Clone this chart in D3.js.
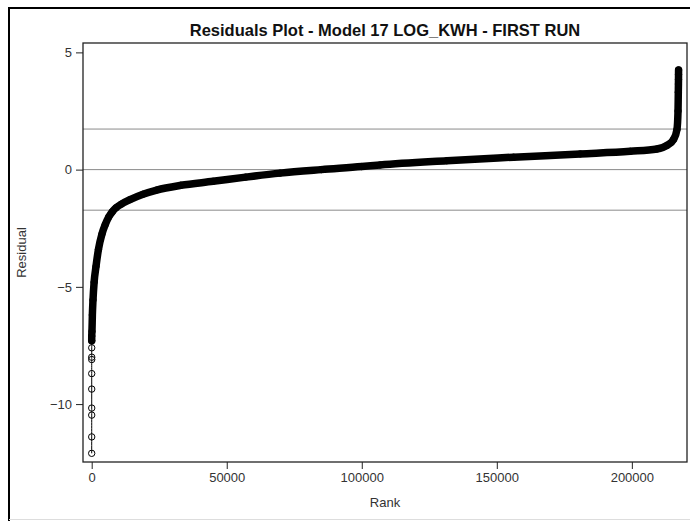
<!DOCTYPE html>
<html>
<head>
<meta charset="utf-8">
<script src="https://cdn.jsdelivr.net/npm/d3@7"></script>
<style>
  body { margin: 0; background: #fff; }
  svg { display: block; font-family: "Liberation Sans", Arial, sans-serif; }
</style>
</head>
<body>
<svg id="chart" width="690" height="521"></svg>
<script>
// residuals sorted by rank
var ranks = [1, 2, 3, 4, 5, 6, 7, 8, 9, 10,
    20, 100, 250, 480, 900, 1590, 2500, 3800, 5000, 6300,
    7600, 9000, 11000, 14190, 19000, 24070, 33000, 44930, 57000, 69750,
    85000, 100000, 106800, 131500, 156200, 180900, 199400, 209300, 213000, 215400,
    216700, 217100, 217200, 217250, 217270, 217285, 217300];
var residuals = [-12.1, -11.4, -10.47, -10.17, -9.36, -8.7, -8.1, -8.0, -7.6, -7.3,
    -7.1, -6.9, -6.2, -5.56, -4.8, -4.13, -3.4, -2.75, -2.35, -2.02,
    -1.8, -1.63, -1.47, -1.28, -1.05, -0.87, -0.67, -0.5, -0.32, -0.15,
    0.0, 0.13, 0.2, 0.38, 0.53, 0.67, 0.78, 0.88, 1.03, 1.28,
    1.71, 2.5, 3.3, 3.65, 3.85, 4.05, 4.25];
var refLines = [1.73, 0, -1.73];
var xTicks = [0, 50000, 100000, 150000, 200000];
var yTicks = [-10, -5, 0, 5];
var title = "Residuals Plot - Model 17 LOG_KWH - FIRST RUN";

var data = ranks.map(function (r, i) { return { rank: r, res: residuals[i] }; });

var svg = d3.select("#chart"),
    margin = { top: 43, right: 3, bottom: 59, left: 83 },
    width = +svg.attr("width") - margin.left - margin.right,
    height = +svg.attr("height") - margin.top - margin.bottom;

// outer frame
svg.append("path")
    .attr("d", "M9,521V8H690")
    .attr("fill", "none")
    .attr("stroke", "#000")
    .attr("stroke-width", 2);
svg.append("line")
    .attr("x1", 9).attr("x2", 690).attr("y1", 519.5).attr("y2", 519.5)
    .attr("stroke", "#ddd");

var g = svg.append("g").attr("transform", "translate(" + margin.left + "," + margin.top + ")");

var x = d3.scaleLinear().domain([-3220, 220420]).range([0, width]);
var y = d3.scaleLinear().domain([-12.47, 5.4]).range([height, 0]);

g.selectAll(".ref")
    .data(refLines)
    .enter().append("line")
    .attr("class", "ref")
    .attr("x1", 0).attr("x2", width)
    .attr("y1", function (d) { return y(d); })
    .attr("y2", function (d) { return y(d); })
    .attr("stroke", "#8a8a8a")
    .attr("stroke-width", 1);

var line = d3.line()
    .x(function (d) { return x(d.rank); })
    .y(function (d) { return y(d.res); })
    .curve(d3.curveMonotoneX);

// thin connecting line
g.append("path")
    .datum(data)
    .attr("fill", "none")
    .attr("stroke", "#000")
    .attr("stroke-width", 1)
    .attr("d", line);

// dense part: overlapping markers form a solid band
g.append("path")
    .datum(data.filter(function (d) { return d.res > -7.35; }))
    .attr("fill", "none")
    .attr("stroke", "#000")
    .attr("stroke-width", 7.5)
    .attr("stroke-linejoin", "round")
    .attr("stroke-linecap", "round")
    .attr("d", line);

g.selectAll(".pt")
    .data(data)
    .enter().append("circle")
    .attr("class", "pt")
    .attr("cx", function (d) { return x(d.rank); })
    .attr("cy", function (d) { return y(d.res); })
    .attr("r", 3.2)
    .attr("fill", "none")
    .attr("stroke", "#000")
    .attr("stroke-width", 1);

// plot frame
g.append("rect")
    .attr("width", width).attr("height", height)
    .attr("fill", "none")
    .attr("stroke", "#222")
    .attr("stroke-width", 1.3);

var xAxis = g.append("g")
    .attr("transform", "translate(0," + height + ")")
    .call(d3.axisBottom(x).tickValues(xTicks).tickSize(7).tickPadding(4).tickFormat(d3.format("d")));
var yAxis = g.append("g")
    .call(d3.axisLeft(y).tickValues(yTicks).tickSize(7).tickPadding(4).tickFormat(d3.format("d")));

[xAxis, yAxis].forEach(function (a) {
    a.select(".domain").remove();
    a.selectAll("line").attr("stroke", "#222");
    a.selectAll("text")
        .attr("fill", "#333")
        .style("font-size", "13px")
        .style("font-family", "Liberation Sans, Arial, sans-serif");
});

svg.append("text")
    .attr("x", margin.left + width / 2)
    .attr("y", 36)
    .attr("text-anchor", "middle")
    .attr("fill", "#111")
    .style("font-size", "16.5px")
    .style("font-weight", "bold")
    .text(title);

svg.append("text")
    .attr("x", margin.left + width / 2)
    .attr("y", 507)
    .attr("text-anchor", "middle")
    .attr("fill", "#333")
    .style("font-size", "13px")
    .text("Rank");

svg.append("text")
    .attr("transform", "translate(26," + (margin.top + height / 2) + ") rotate(-90)")
    .attr("text-anchor", "middle")
    .attr("fill", "#333")
    .style("font-size", "13px")
    .text("Residual");
</script>
</body>
</html>
